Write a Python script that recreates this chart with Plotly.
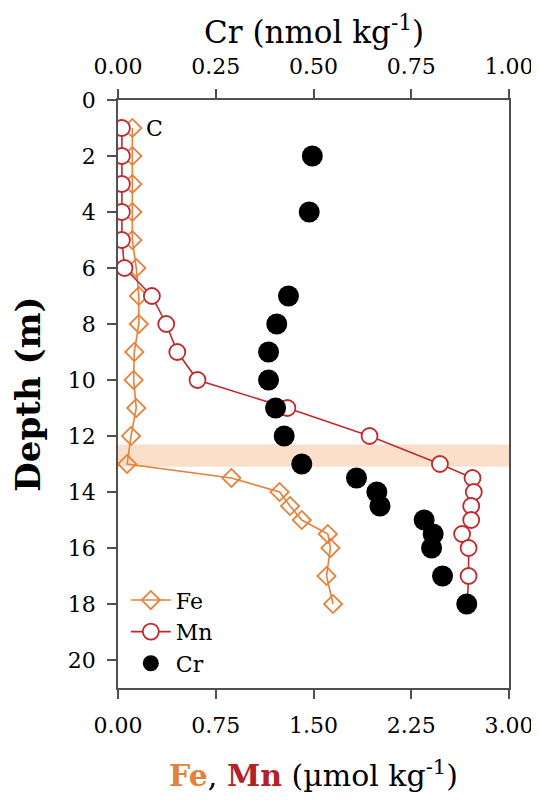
import plotly.graph_objects as go

# ---- data ----
fe_depth = [1, 2, 3, 4, 5, 6, 7, 8, 9, 10, 11, 12, 13, 13.5, 14, 14.5, 15, 15.5, 16, 17, 18]
fe_vals = [0.11, 0.11, 0.11, 0.11, 0.11, 0.14, 0.16, 0.16, 0.125, 0.12, 0.14, 0.10, 0.07,
           0.87, 1.24, 1.32, 1.41, 1.61, 1.63, 1.60, 1.65]

mn_depth = [1, 2, 3, 4, 5, 6, 7, 8, 9, 10, 11, 12, 13, 13.5, 14, 14.5, 15, 15.5, 16, 17, 18]
mn_vals = [0.03, 0.03, 0.03, 0.03, 0.03, 0.05, 0.26, 0.37, 0.455, 0.61, 1.30, 1.93, 2.47,
           2.72, 2.73, 2.71, 2.71, 2.64, 2.69, 2.69, 2.68]

cr_depth = [2, 4, 7, 8, 9, 10, 11, 12, 13, 13.5, 14, 14.5, 15, 15.5, 16, 17, 18]
cr_vals = [0.497, 0.489, 0.436, 0.406, 0.385, 0.385, 0.403, 0.425, 0.47, 0.61, 0.662,
           0.67, 0.783, 0.806, 0.802, 0.83, 0.892]

femn_ticks = [0.0, 0.75, 1.50, 2.25, 3.00]
cr_ticks = [0.0, 0.25, 0.50, 0.75, 1.00]
depth_ticks = [0, 2, 4, 6, 8, 10, 12, 14, 16, 18, 20]

femn_range = [0, 3]
cr_range = [0, 1]
depth_range = [21, 0]
band_top, band_bottom = 12.3, 13.1

FE_COLOR = "#E5813A"
MN_COLOR = "#BE2A2E"
AX_COLOR = "#505050"
FONT = "DejaVu Serif"

fig = go.Figure()

# Cr (top axis)
fig.add_trace(go.Scatter(
    x=cr_vals, y=cr_depth, xaxis="x2", yaxis="y", mode="markers", name="Cr",
    marker=dict(symbol="circle", size=21, color="black"), legendrank=3))

# highlight band (drawn above Cr, below Fe/Mn)
fig.add_trace(go.Scatter(
    x=[femn_range[0], femn_range[1], femn_range[1], femn_range[0], femn_range[0]],
    y=[band_top, band_top, band_bottom, band_bottom, band_top],
    mode="lines", fill="toself", fillcolor="rgba(243,128,48,0.25)",
    line=dict(width=0), hoverinfo="skip", showlegend=False))

fig.add_trace(go.Scatter(
    x=fe_vals, y=fe_depth, mode="lines+markers", name="Fe",
    line=dict(color=FE_COLOR, width=1.6),
    marker=dict(symbol="diamond-open", size=14, color=FE_COLOR, line=dict(width=1.8)),
    legendrank=1))

fig.add_trace(go.Scatter(
    x=mn_vals, y=mn_depth, mode="lines+markers", name="Mn",
    line=dict(color=MN_COLOR, width=1.6),
    marker=dict(symbol="circle", size=16, color="white",
                line=dict(color=MN_COLOR, width=1.8)), legendrank=2))

fig.add_annotation(x=0.2, y=1, xref="x", yref="y", text="C", showarrow=False,
                   xanchor="left", yanchor="middle",
                   font=dict(family=FONT, size=22, color="black"))

# top axis title
fig.add_annotation(x=0.5, y=1, xref="paper", yref="paper", yshift=70,
                   text="Cr (nmol kg<sup>-1</sup>)", showarrow=False,
                   xanchor="center", yanchor="middle",
                   font=dict(family=FONT, size=31, color="black"))

axis_common = dict(showline=True, linecolor=AX_COLOR, linewidth=1.5, ticks="outside",
                   tickcolor=AX_COLOR, tickwidth=1.5, ticklen=9, showgrid=False,
                   zeroline=False, automargin=False, ticklabeloverflow="allow",
                   tickfont=dict(family=FONT, size=22, color="black"))

# page body has an 8px default margin, so the figure is sized to fit the window
fig.update_layout(
    width=531, height=793,
    margin=dict(l=110, r=30, t=92, b=113),
    paper_bgcolor="white", plot_bgcolor="white",
    font=dict(family=FONT, color="black"),
    xaxis=dict(range=femn_range, tickvals=femn_ticks, tickformat=".2f",
               ticklabelstandoff=8,
               title=dict(text="<b><span style='color:#E5813A'>Fe</span></b>, "
                               "<b><span style='color:#B22227'>Mn</span></b> (µmol kg<sup>-1</sup>)",
                          font=dict(family=FONT, size=30, color="black"), standoff=28),
               **axis_common),
    xaxis2=dict(range=cr_range, tickvals=cr_ticks, tickformat=".2f", overlaying="x",
                side="top", anchor="y", ticklabelstandoff=6,
                **axis_common),
    yaxis=dict(range=depth_range, tickvals=depth_ticks, mirror=True, ticklabelstandoff=7,
               title=dict(text="<b>Depth (m)</b>",
                          font=dict(family=FONT, size=34, color="black"), standoff=18),
               **axis_common),
    legend=dict(x=0.02, y=0.185, xanchor="left", yanchor="top",
                bgcolor="rgba(0,0,0,0)", font=dict(family=FONT, size=22, color="black"),
                tracegroupgap=0, itemwidth=40),
    showlegend=True,
)

fig.write_html("out.html")
